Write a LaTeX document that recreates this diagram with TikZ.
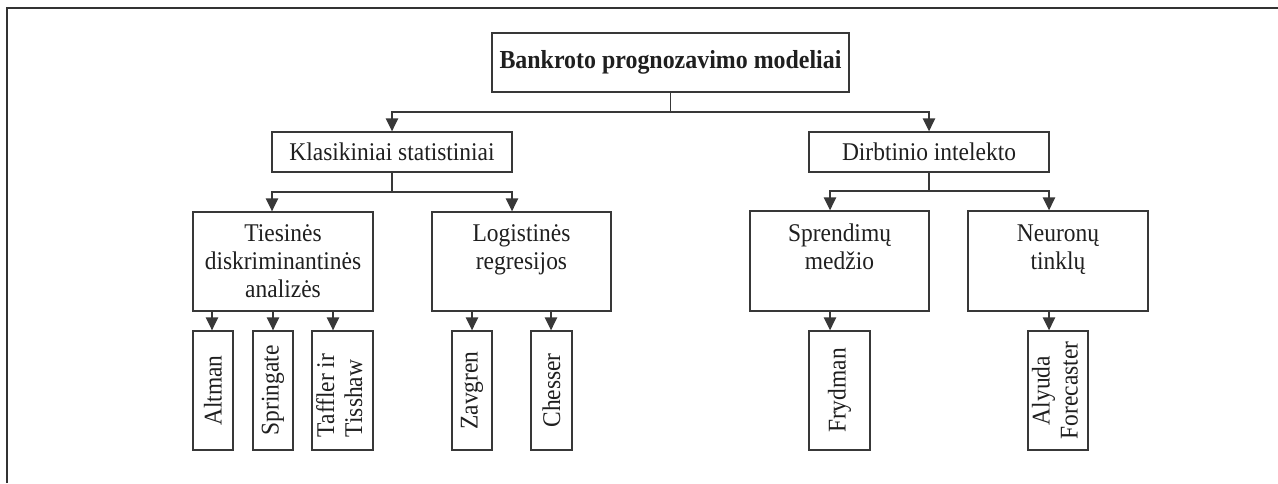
\documentclass[tikz,border=0pt]{standalone}
\usepackage{fontspec}
\setmainfont{Liberation Serif}[FakeStretch=0.92]
\usetikzlibrary{arrows.meta,calc}
\begin{document}
\begin{tikzpicture}[x=1pt,y=-1pt,
  every node/.style={font=\fontsize{25.5}{28}\selectfont, text=black!88},
  box/.style={draw=black!78, line width=1.4pt, inner sep=0pt, align=center},
  leaf/.style={box, minimum height=119pt},
  conn/.style={draw=black!78, line width=1.4pt},
  arr/.style={conn, -{Triangle[length=13pt,width=12.5pt]}}
]
\useasboundingbox (0,0) rectangle (1278,483);
% frame
\draw[black!80, line width=1.1pt] (7,483) -- (7,8) -- (1278,8);

% level 0
\node[box, minimum width=357pt, minimum height=59pt, font=\fontsize{26}{28}\selectfont\bfseries] (top) at (670.5,62.5) {Bankroto prognozavimo modeliai};
% level 1
\node[box, minimum width=240pt, minimum height=40pt] (klas) at (392,152) {Klasikiniai statistiniai};
\node[box, minimum width=240pt, minimum height=40pt] (dirb) at (929,152) {Dirbtinio intelekto};
% level 2
\node[box, minimum width=180pt, minimum height=99pt] (ties) at (283,261.5) {Tiesinės\\diskriminantinės\\analizės};
\node[box, minimum width=179pt, minimum height=99pt] (logi) at (521.5,261.5) {Logistinės\\regresijos\\\phantom{analizės}};
\node[box, minimum width=179pt, minimum height=100pt] (spre) at (839.5,261) {Sprendimų\\medžio\\\phantom{analizės}};
\node[box, minimum width=180pt, minimum height=100pt] (neur) at (1058,261) {Neuronų\\tinklų\\\phantom{analizės}};
% leaves
\node[leaf, minimum width=40pt] (altm) at (213,390.5) {\rotatebox{90}{Altman}};
\node[leaf, minimum width=40pt] (spri) at (273,390.5) {\rotatebox{90}{Springate}};
\node[leaf, minimum width=61pt] (taff) at (342.5,390.5) {\rotatebox{90}{\hspace*{-10pt}\begin{tabular}{@{}l@{}}Taffler ir\\Tisshaw\end{tabular}}};
\node[leaf, minimum width=40pt] (zavg) at (472,390.5) {\rotatebox{90}{Zavgren}};
\node[leaf, minimum width=41pt] (ches) at (551.5,390.5) {\rotatebox{90}{Chesser}};
\node[leaf, minimum width=61pt] (fryd) at (839.5,390.5) {\rotatebox{90}{Frydman}};
\node[leaf, minimum width=60pt] (alyu) at (1058,390.5) {\rotatebox{90}{\begin{tabular}{@{}c@{}}Alyuda\\Forecaster\end{tabular}}};

% bus coordinates
\coordinate (b0) at (0,112);
\coordinate (b1) at (0,192);
\coordinate (b2) at (0,191);
\coordinate (xt1) at (272,0);
\coordinate (xt2) at (512,0);
\coordinate (xd1) at (830,0);
\coordinate (xd2) at (1049,0);
\coordinate (xa) at (212,0);
\coordinate (xs) at (273,0);
\coordinate (xf) at (333,0);
\coordinate (xz) at (472,0);
\coordinate (xc) at (551,0);

% top connectors
\draw[conn] (top.south) -- (top.south |- b0);
\draw[arr] (top.south |- b0) -| (klas.north);
\draw[arr] (top.south |- b0) -| (dirb.north);
% klas connectors
\draw[conn] (klas.south) -- (klas.south |- b1);
\draw[arr] (klas.south |- b1) -| (ties.north -| xt1);
\draw[arr] (klas.south |- b1) -| (logi.north -| xt2);
% dirb connectors
\draw[conn] (dirb.south) -- (dirb.south |- b2);
\draw[arr] (dirb.south |- b2) -| (spre.north -| xd1);
\draw[arr] (dirb.south |- b2) -| (neur.north -| xd2);
% leaf connectors
\draw[arr] (ties.south -| xa) -- (altm.north -| xa);
\draw[arr] (ties.south -| xs) -- (spri.north -| xs);
\draw[arr] (ties.south -| xf) -- (taff.north -| xf);
\draw[arr] (logi.south -| xz) -- (zavg.north -| xz);
\draw[arr] (logi.south -| xc) -- (ches.north -| xc);
\draw[arr] (spre.south -| xd1) -- (fryd.north -| xd1);
\draw[arr] (neur.south -| xd2) -- (alyu.north -| xd2);
\end{tikzpicture}
\end{document}
